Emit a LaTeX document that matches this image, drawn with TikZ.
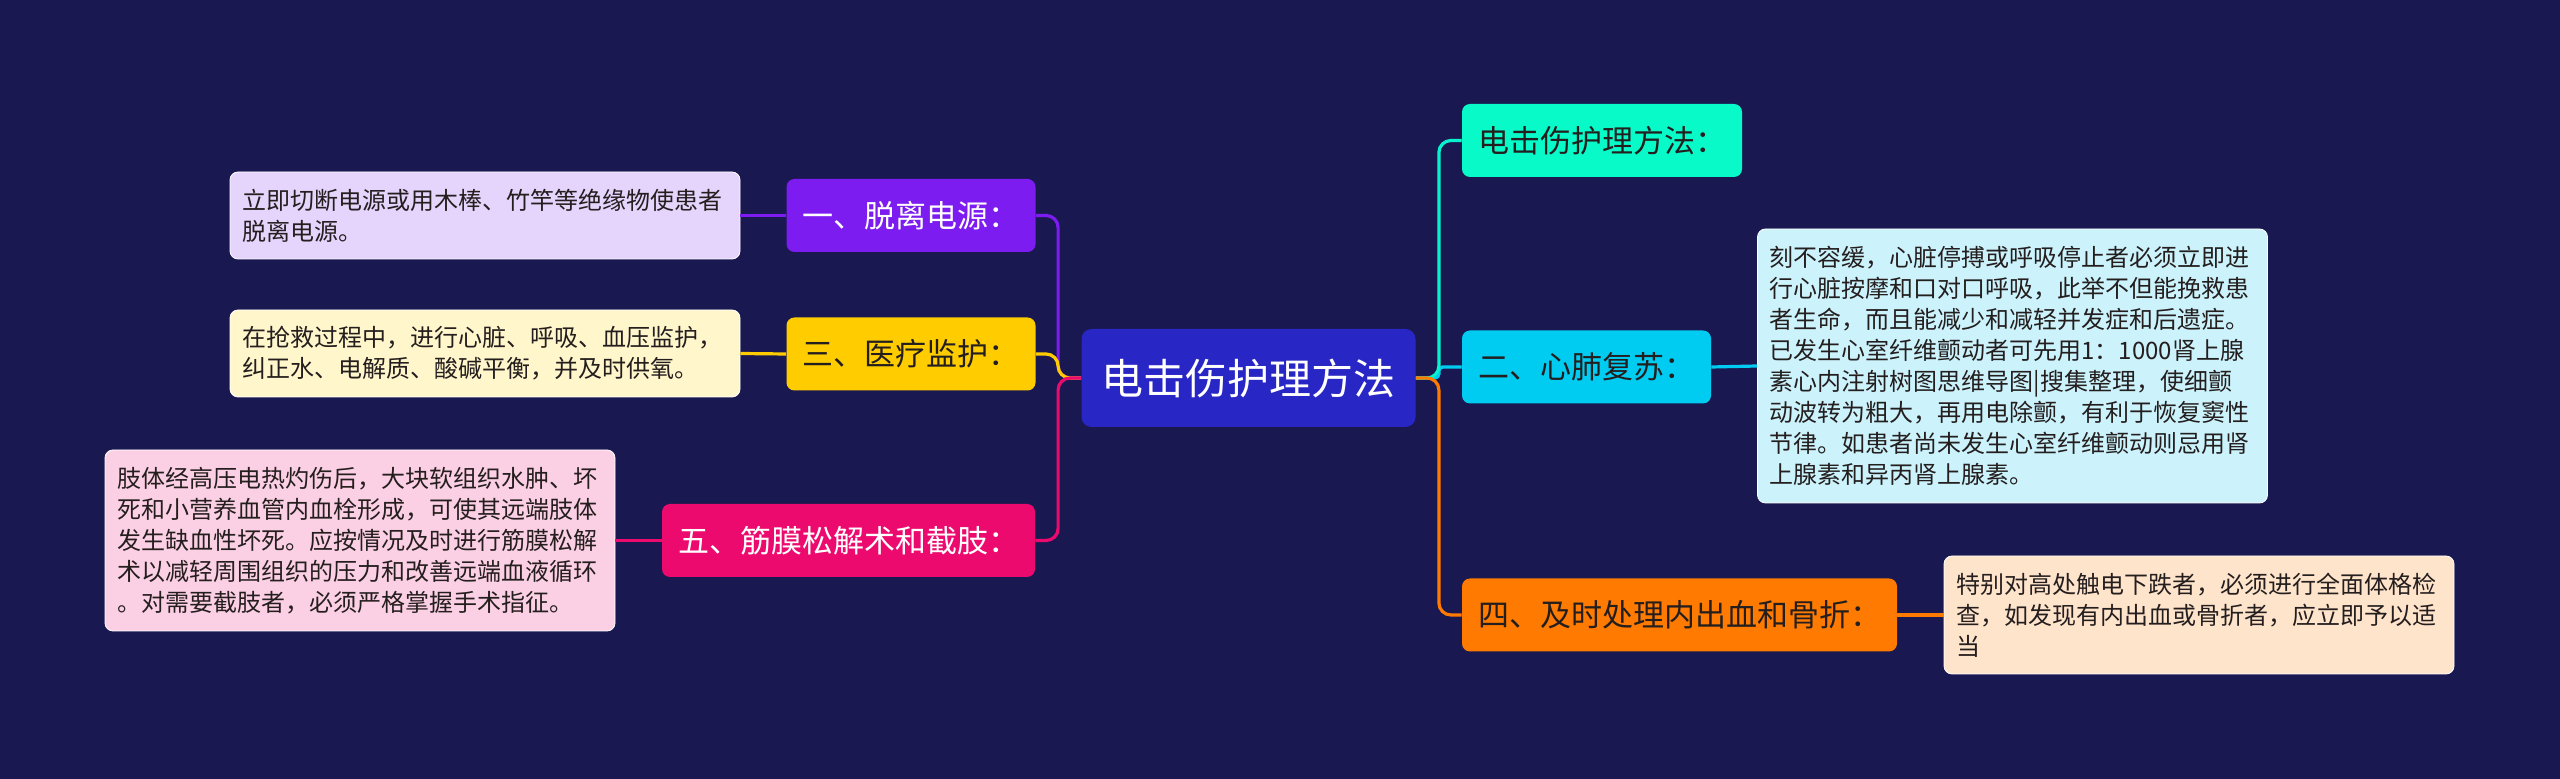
\documentclass[tikz,border=0pt]{standalone}
\usepackage{fontspec}
\setmainfont{Noto Sans CJK SC}
\usepackage{xcolor}
\usetikzlibrary{positioning}

\definecolor{bgnavy}{RGB}{26,24,80}
\definecolor{rootblue}{RGB}{40,38,196}
\definecolor{tealb}{RGB}{8,250,200}
\definecolor{cyanb}{RGB}{0,204,242}
\definecolor{cyanl}{RGB}{204,243,252}
\definecolor{orangeb}{RGB}{255,122,0}
\definecolor{orangel}{RGB}{255,228,204}
\definecolor{purpleb}{RGB}{124,28,240}
\definecolor{purplel}{RGB}{229,212,252}
\definecolor{yellowb}{RGB}{255,204,0}
\definecolor{yellowl}{RGB}{255,246,204}
\definecolor{pinkb}{RGB}{236,10,110}
\definecolor{pinkl}{RGB}{252,208,228}
\definecolor{inkdark}{RGB}{36,30,30}

\begin{document}
\begin{tikzpicture}[
  x=0.5pt, y=-0.5pt,
  rootbox/.style={fill=rootblue, rounded corners=5pt, text=white, inner xsep=10pt, inner ysep=0pt,
                  font=\fontsize{21}{24}\selectfont, minimum height=49pt},
  topic/.style={rounded corners=4pt, inner xsep=8pt, inner ysep=0pt, minimum height=36.5pt,
                font=\fontsize{15.5}{18}\selectfont},
  note/.style={rounded corners=4pt, inner xsep=6pt, inner ysep=0pt, align=left,
               text width=243pt, text=inkdark, draw=white!60, line width=0.4pt,
               font=\fontsize{12}{15.5}\selectfont},
  link/.style={line width=1.6pt, rounded corners=6pt}
]
  \fill[bgnavy] (0,0) rectangle (2560,779);
  \useasboundingbox (0,0) rectangle (2560,779);

  % centre
  \node[rootbox] (root) at (1248.5,378) {电击伤护理方法};

  % right branches
  \node[topic, fill=tealb, text=inkdark] (rt1) at (1602,140.5) {电击伤护理方法：};
  \node[topic, fill=cyanb, text=inkdark] (rt2) at (1586.5,367) {二、心肺复苏：};
  \node[topic, fill=orangeb, text=inkdark] (rt4) at (1679.5,615) {四、及时处理内出血和骨折：};

  \node[note, fill=cyanl, minimum height=137pt] (nt2) at (2012.5,366)
    {刻不容缓，心脏停搏或呼吸停止者必须立即进\\行心脏按摩和口对口呼吸，此举不但能挽救患\\者生命，而且能减少和减轻并发症和后遗症。\\已发生心室纤维颤动者可先用1：1000肾上腺\\素心内注射树图思维导图|搜集整理，使细颤\\动波转为粗大，再用电除颤，有利于恢复窦性\\节律。如患者尚未发生心室纤维颤动则忌用肾\\上腺素和异丙肾上腺素。};
  \node[note, fill=orangel, minimum height=59pt] (nt4) at (2199,615)
    {特别对高处触电下跌者，必须进行全面体格检\\查，如发现有内出血或骨折者，应立即予以适\\当};

  % left branches
  \node[topic, fill=purpleb, text=white] (lt1) at (911,215.5) {一、脱离电源：};
  \node[topic, fill=yellowb, text=inkdark] (lt3) at (911,354) {三、医疗监护：};
  \node[topic, fill=pinkb, text=white] (lt5) at (848.5,540.5) {五、筋膜松解术和截肢：};

  \node[note, fill=purplel, minimum height=43.5pt] (nl1) at (485,215.5)
    {立即切断电源或用木棒、竹竿等绝缘物使患者\\脱离电源。};
  \node[note, fill=yellowl, minimum height=43.5pt] (nl3) at (485,353.5)
    {在抢救过程中，进行心脏、呼吸、血压监护，\\纠正水、电解质、酸碱平衡，并及时供氧。};
  \node[note, fill=pinkl, minimum height=90.5pt] (nl5) at (360,540.5)
    {肢体经高压电热灼伤后，大块软组织水肿、坏\\死和小营养血管内血栓形成，可使其远端肢体\\发生缺血性坏死。应按情况及时进行筋膜松解\\术以减轻周围组织的压力和改善远端血液循环\\。对需要截肢者，必须严格掌握手术指征。};

  % connectors
  \draw[link, cyanb, rounded corners=2pt] (root.east) -- ++(23,0) |- (rt2.west);
  \draw[link, tealb!85!cyanb] (root.east) -- ++(23,0) |- (rt1.west);
  \draw[link, orangeb] (root.east) -- ++(23,0) |- (rt4.west);
  \draw[link, cyanb] (rt2.east) -- (nt2.west);
  \draw[link, orangeb] (rt4.east) -- (nt4.west);

  \draw[link, purpleb] (root.west) -- ++(-23,0) |- (lt1.east);
  \draw[link, yellowb] (root.west) -- ++(-23,0) |- (lt3.east);
  \draw[link, pinkb] (root.west) -- ++(-23,0) |- (lt5.east);
  \draw[link, purpleb] (lt1.west) -- (nl1.east);
  \draw[link, yellowb] (lt3.west) -- (nl3.east);
  \draw[link, pinkb] (lt5.west) -- (nl5.east);
\end{tikzpicture}
\end{document}
